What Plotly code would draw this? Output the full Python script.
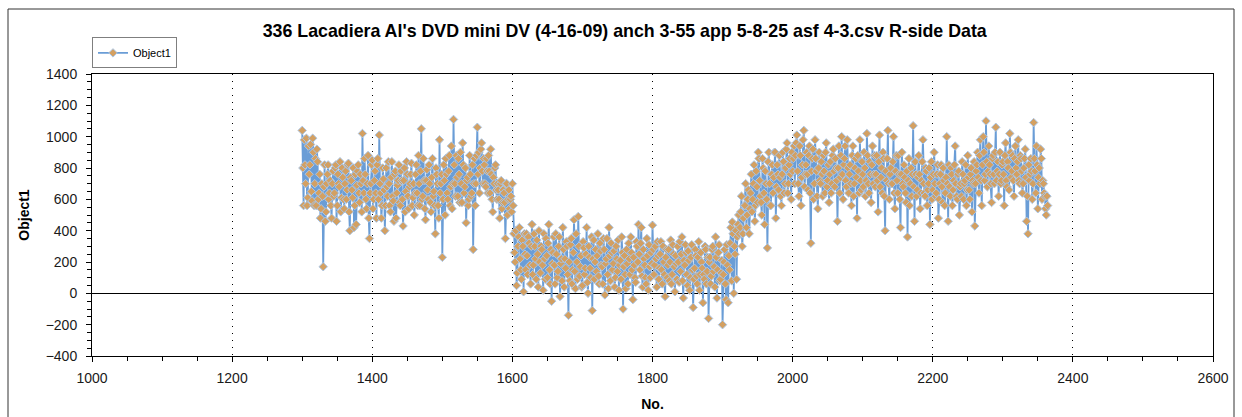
import plotly.graph_objects as go

# Object1 readings, No. 1300-2364. Even-numbered and odd-numbered samples are
# kept in separate lists and merged into one series below.
first_no = 1300

even_a = [  # No. 1300-1598
    1040, 560, 820, 990, 610, 760, 950, 590, 900, 700,
    560, 840, 640, 480, 700, 170, 820, 520, 760, 600,
    720, 480, 780, 640, 820, 560, 700, 840, 610, 740,
    540, 780, 660, 830, 400, 720, 610, 420, 760, 690,
    820, 580, 700, 1020, 640, 760, 540, 880, 350, 700,
    850, 600, 780, 480, 860, 1010, 640, 560, 730, 400,
    800, 620, 700, 520, 840, 590, 760, 480, 690, 820,
    560, 720, 430, 800, 650, 760, 540, 700, 830, 610,
    500, 760, 640, 880, 560, 1050, 620, 720, 470, 790,
    600, 700, 520, 860, 650, 380, 760, 560, 980, 700,
    230, 820, 500, 760, 600, 880, 680, 540, 1110, 700,
    880, 620, 760, 900, 580, 820, 680, 450, 740, 600,
    760, 640, 280, 860, 700, 1060, 900, 800, 960, 700,
    820, 680, 780, 880, 640, 760, 520, 700, 820, 600,
    660, 480, 720, 580, 640, 350, 700, 600, 540, 620,
]
even_b = [  # No. 1600-1918
    700, 380, 200, 50, 300, 420, 150, 340, 10, 250,
    380, 120, 320, 60, 440, 180, 300, 90, 250, 400,
    130, 280, 20, 220, 350, 100, 440, 60, -50, 260,
    180, 380, 100, 300, -20, 220, 420, 40, 160, 300,
    -140, 80, 350, 150, 470, 30, 200, 490, 110, 240,
    50, 290, 160, 420, 0, 230, 100, -110, 340, 200,
    140, 380, 60, 270, 170, 350, -10, 220, 120, 420,
    80, 260, 190, 40, 300, 140, 20, 210, 360, -100,
    240, 30, 190, 320, 120, 260, -40, 180, 70, 300,
    440, 150, 420, 40, 220, 100, 350, 20, 170, 260,
    435, 120, 300, 40, 240, 160, 330, 60, 200, -20,
    280, 180, 80, 340, 120, 250, 10, 190, 300, 70,
    140, 360, -30, 180, 260, 50, 210, 100, 310, -90,
    160, 240, 60, 330, 120, 200, -60, 90, 280, 140,
    -160, 230, 110, 300, 170, 360, -30, 260, 80, 130,
    -200, 200, 60, 310, -60, 150, 420, 455, 0, 250,
]
even_c = [  # No. 1920-1998
    90, 440, 380, 520, 300, 480, 560, 420, 600, 380,
    640, 520, 700, 460, 780, 580, 860, 620, 500, 800,
    440, 700, 290, 900, 560, 760, 640, 900, 480, 820,
    660, 740, 560, 900, 640, 800, 960, 700, 860, 600,
]
even_d = [  # No. 2000-2364
    780, 940, 880, 1010, 700, 940, 560, 820, 1040, 760,
    900, 660, 940, 320, 860, 600, 980, 780, 540, 900,
    700, 760, 880, 640, 960, 720, 580, 840, 700, 920,
    680, 800, 460, 940, 740, 1000, 600, 860, 720, 980,
    640, 820, 560, 940, 700, 860, 480, 780, 980, 660,
    760, 900, 620, 1020, 700, 840, 580, 940, 760, 680,
    880, 520, 1010, 740, 640, 860, 400, 720, 1040, 600,
    800, 700, 1000, 540, 880, 640, 760, 420, 900, 680,
    740, 580, 360, 860, 700, 620, 1070, 460, 760, 660,
    880, 540, 720, 980, 640, 800, 560, 700, 440, 840,
    660, 900, 620, 760, 480, 700, 820, 580, 720, 640,
    1000, 460, 680, 800, 560, 720, 940, 620, 760, 500,
    700, 840, 600, 720, 560, 880, 660, 760, 520, 700,
    430, 780, 900, 640, 980, 560, 1000, 720, 1100, 680,
    940, 760, 580, 880, 700, 1060, 780, 620, 900, 720,
    840, 560, 960, 680, 800, 1020, 740, 880, 620, 940,
    760, 980, 700, 860, 640, 800, 920, 460, 380, 720,
    860, 600, 1090, 780, 940, 540, 800, 920, 600, 700,
    620, 500, 560,
]

odd_a = [  # No. 1301-1599
    800, 980, 700, 560, 940, 820, 650, 990, 560, 860,
    920, 600, 760, 540, 620, 680, 460, 700, 820, 640,
    560, 700, 620, 800, 460, 760, 680, 520, 800, 600,
    700, 600, 820, 520, 740, 660, 800, 560, 440, 780,
    640, 760, 520, 720, 860, 600, 700, 480, 640, 820,
    540, 720, 640, 820, 600, 700, 480, 800, 660, 560,
    680, 840, 560, 740, 620, 460, 780, 640, 720, 580,
    780, 600, 720, 520, 840, 620, 680, 760, 560, 700,
    640, 820, 560, 700, 780, 600, 860, 540, 720, 660,
    820, 580, 740, 620, 560, 800, 700, 480, 640, 760,
    600, 720, 860, 640, 780, 560, 940, 700, 820, 620,
    740, 860, 580, 700, 960, 640, 800, 720, 560, 880,
    620, 820, 700, 560, 880, 760, 640, 920, 780, 860,
    700, 860, 640, 780, 920, 600, 740, 800, 660, 700,
    600, 700, 540, 660, 580, 700, 500, 660, 600, 520,
]
odd_b = [  # No. 1601-1919
    560, 260, 400, 130, 360, 220, 90, 300, 380, 150,
    240, 360, 180, 300, 120, 380, 220, 340, 40, 200,
    300, 180, 380, 90, 240, 320, 150, 280, 190, 360,
    60, 250, 140, 360, 190, 80, 280, 220, 330, 120,
    200, 310, 60, 260, 140, 380, 90, 300, 170, 40,
    330, 120, 250, 70, 300, 160, 360, 220, 90, 280,
    240, 110, 320, 180, 60, 280, 190, 350, 30, 240,
    320, 150, 270, 100, 220, 340, 180, 90, 260, 170,
    120, 280, 60, 220, 360, 150, 230, 100, 330, 200,
    250, 320, 110, 280, 180, 60, 240, 310, 100, 190,
    280, 180, 220, 330, 90, 250, 150, 300, 120, 230,
    100, 280, 200, 60, 310, 170, 240, 90, 200, 330,
    250, 80, 210, 310, 120, 270, 20, 230, 150, 90,
    280, 110, 230, 20, 260, 160, 120, 300, 60, 230,
    200, 60, 280, 140, 40, 230, 150, 310, 90, 210,
    120, 280, -40, 180, 240, 320, 80, 380, 300, 400,
]
odd_c = [  # No. 1921-1999
    360, 500, 420, 620, 380, 560, 700, 500, 660, 540,
    760, 600, 820, 560, 680, 900, 720, 580, 860, 640,
    780, 600, 840, 700, 560, 820, 740, 900, 680, 760,
    880, 620, 760, 840, 700, 920, 640, 820, 760, 900,
]
odd_d = [  # No. 2001-2363
    860, 700, 960, 780, 620, 880, 740, 980, 680, 820,
    760, 880, 640, 780, 920, 700, 860, 620, 800, 720,
    840, 620, 780, 900, 680, 820, 760, 640, 880, 780,
    860, 720, 800, 640, 880, 760, 820, 940, 680, 800,
    760, 700, 880, 620, 800, 740, 880, 640, 720, 840,
    680, 800, 720, 880, 640, 760, 820, 700, 880, 760,
    720, 840, 680, 800, 900, 620, 780, 860, 700, 760,
    700, 840, 640, 780, 720, 880, 600, 760, 700, 820,
    640, 780, 720, 560, 800, 760, 680, 840, 620, 740,
    760, 640, 840, 700, 620, 780, 660, 800, 740, 600,
    760, 700, 640, 820, 600, 760, 680, 800, 560, 740,
    700, 820, 620, 760, 660, 820, 700, 600, 780, 680,
    620, 760, 700, 820, 660, 740, 600, 800, 720, 840,
    700, 820, 740, 880, 720, 820, 900, 760, 840, 780,
    820, 700, 860, 760, 900, 720, 840, 760, 700, 820,
    760, 880, 720, 840, 660, 900, 780, 720, 860, 800,
    840, 720, 880, 780, 700, 860, 740, 620, 820, 760,
    780, 700, 860, 640, 820, 740, 700, 860, 720, 640,
    540, 620,
]

evens = even_a + even_b + even_c + even_d
odds = odd_a + odd_b + odd_c + odd_d

object1 = []
for i, v in enumerate(evens):
    object1.append(v)
    if i < len(odds):
        object1.append(odds[i])
sample_no = list(range(first_no, first_no + len(object1)))

x_ticks = [1000, 1200, 1400, 1600, 1800, 2000, 2200, 2400, 2600]
y_ticks = [-400, -200, 0, 200, 400, 600, 800, 1000, 1200, 1400]

title_text = "336 Lacadiera Al's DVD mini DV (4-16-09) anch 3-55 app 5-8-25 asf 4-3.csv R-side Data"

FONT = "Liberation Sans, Arial, sans-serif"
LINE_BLUE = "#6a9dd6"
MARKER_TAN = "#d3a062"

fig = go.Figure()
fig.add_trace(go.Scatter(
    x=sample_no, y=object1, name="Object1", mode="lines+markers",
    line=dict(color=LINE_BLUE, width=1.8),
    marker=dict(symbol="diamond", size=6.5, color=MARKER_TAN,
                line=dict(color="#a9c6e8", width=1)),
))

W, H = 1242, 417
ml, mr, mt, mb = 92, 29, 74, 61
pw, ph = W - ml - mr, H - mt - mb

def px_x(p):
    return (p - ml) / pw

def px_y(p):
    return (H - mb - p) / ph

axis_common = dict(
    showline=True, linecolor="#000000", linewidth=1, mirror=True,
    ticks="outside", ticklen=5, tickcolor="#000000", tickwidth=1,
    tickfont=dict(family=FONT, size=14, color="#1a1a1a"),
    title_font=dict(family=FONT, size=14, color="#000000"),
    automargin=False,
)

fig.update_xaxes(
    range=[1000, 2600], tickvals=x_ticks, title_text="<b>No.</b>",
    showgrid=True, gridcolor="#000000", gridwidth=1, griddash="1px,6px",
    zeroline=False, title_standoff=14, ticklabelstandoff=4,
    minor=dict(dtick=50, ticks="outside", ticklen=4, tickcolor="#000000", showgrid=False),
    **axis_common,
)
fig.update_yaxes(
    range=[-400, 1400], tickvals=y_ticks, title_text="<b>Object1</b>",
    showgrid=False, zeroline=True, zerolinecolor="#000000", zerolinewidth=1,
    title_standoff=12, ticklabelstandoff=6,
    minor=dict(dtick=50, ticks="outside", ticklen=4, tickcolor="#000000", showgrid=False),
    **axis_common,
)

fig.update_layout(
    width=W, height=H,
    margin=dict(l=ml, r=mr, t=mt, b=mb, autoexpand=False),
    paper_bgcolor="#ffffff", plot_bgcolor="#ffffff",
    title=dict(text="<b>" + title_text + "</b>", x=0.503, xanchor="center",
               y=1 - 31 / H, yanchor="middle",
               font=dict(family=FONT, size=17.8, color="#000000")),
    showlegend=True,
    legend=dict(x=0, y=1.02, xanchor="left", yanchor="bottom",
                bordercolor="#7f7f7f", borderwidth=1, bgcolor="#ffffff",
                font=dict(family=FONT, size=11, color="#000000"),
                itemwidth=30, tracegroupgap=0),
    shapes=[dict(type="rect", xref="paper", yref="paper",
                 x0=px_x(8), x1=px_x(1234), y0=px_y(425), y1=px_y(9),
                 line=dict(color="#333333", width=1), layer="below")],
)

fig.write_html("out.html")
